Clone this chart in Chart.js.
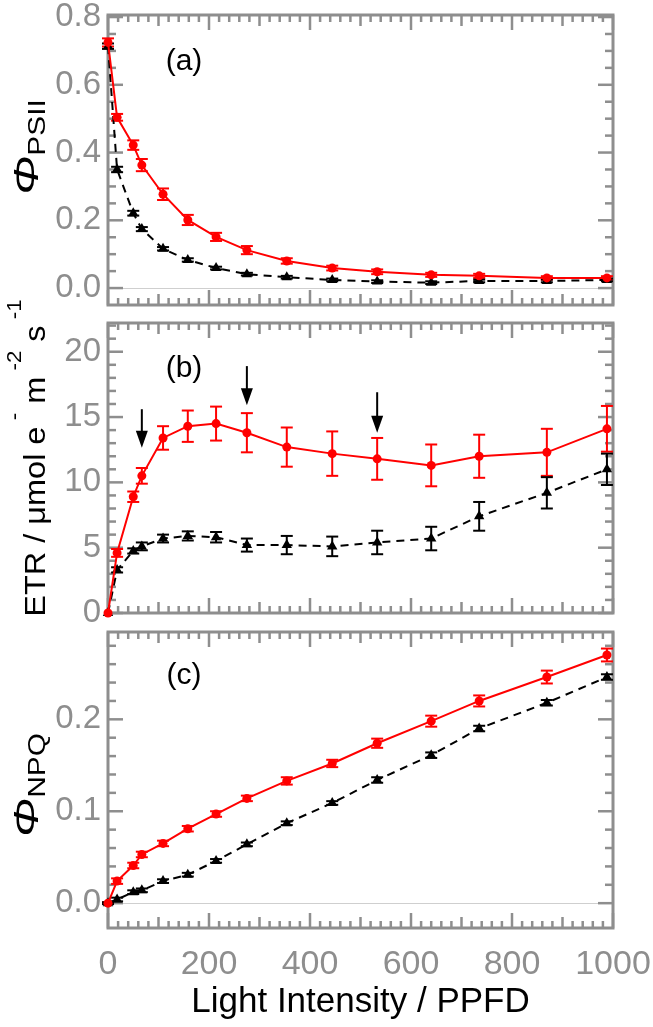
<!DOCTYPE html>
<html>
<head>
<meta charset="utf-8">
<script src="https://cdn.jsdelivr.net/npm/chart.js@4.4.0/dist/chart.umd.min.js"></script>
<style>
  html, body { margin: 0; padding: 0; background: #fff; }
  #wrap { position: relative; width: 653px; height: 1027px; }
  #wrap canvas { position: absolute; left: 0; top: 0; }
</style>
</head>
<body>
<div id="wrap">
  <canvas id="chartA" width="653" height="1027"></canvas>
  <canvas id="chartB" width="653" height="1027"></canvas>
  <canvas id="chartC" width="653" height="1027"></canvas>
</div>
<script>
/* ---------- data ---------- */
const lightX = [0, 18, 50, 67, 109, 158, 214, 275, 354, 444, 533, 640, 735, 869, 988];

const psiiRed      = [0.725, 0.504, 0.422, 0.363, 0.277, 0.201, 0.151, 0.112, 0.080, 0.059, 0.048, 0.039, 0.036, 0.030, 0.030];
const psiiRedErr   = [0.012, 0.010, 0.014, 0.018, 0.017, 0.015, 0.012, 0.012, 0.008, 0.007, 0.007, 0.006, 0.006, 0.005, 0.005];
const psiiBlack    = [0.714, 0.350, 0.221, 0.174, 0.116, 0.083, 0.059, 0.041, 0.032, 0.024, 0.019, 0.016, 0.021, 0.021, 0.024];
const psiiBlackErr = [0.008, 0.008, 0.007, 0.006, 0.005, 0.005, 0.004, 0.004, 0.004, 0.004, 0.004, 0.004, 0.004, 0.004, 0.004];

const etrRed      = [0, 4.6, 8.9, 10.5, 13.4, 14.3, 14.5, 13.8, 12.7, 12.2, 11.8, 11.3, 12.0, 12.3, 14.1];
const etrRedErr   = [0, 0.3, 0.4, 0.6, 0.9, 1.2, 1.3, 1.5, 1.5, 1.7, 1.6, 1.6, 1.65, 1.8, 1.75];
const etrBlack    = [0, 3.3, 4.75, 5.1, 5.7, 5.9, 5.8, 5.2, 5.2, 5.1, 5.4, 5.7, 7.4, 9.2, 11.0];
const etrBlackErr = [0, 0.2, 0.2, 0.3, 0.3, 0.35, 0.4, 0.5, 0.7, 0.75, 0.9, 0.9, 1.1, 1.2, 1.2];

const npqRed      = [0, 0.024, 0.041, 0.053, 0.065, 0.081, 0.097, 0.114, 0.133, 0.152, 0.174, 0.198, 0.220, 0.246, 0.270];
const npqRedErr   = [0.001, 0.003, 0.003, 0.003, 0.003, 0.003, 0.003, 0.003, 0.004, 0.004, 0.005, 0.006, 0.006, 0.007, 0.007];
const npqBlack    = [0, 0.004, 0.012, 0.014, 0.024, 0.031, 0.046, 0.064, 0.087, 0.109, 0.134, 0.161, 0.190, 0.218, 0.246];
const npqBlackErr = [0.001, 0.002, 0.002, 0.002, 0.002, 0.002, 0.002, 0.002, 0.002, 0.002, 0.003, 0.003, 0.003, 0.003, 0.003];

// arrows in panel (b): x, tail y, tip y
const arrowX    = [67, 275, 533];
const arrowTail = [15.6, 18.9, 16.9];
const arrowTip  = [12.65, 15.9, 13.8];

const xTickVals  = [0, 200, 400, 600, 800, 1000];
const yTickValsA = [0, 0.2, 0.4, 0.6, 0.8];
const yTickValsB = [0, 5, 10, 15, 20];
const yTickValsC = [0, 0.1, 0.2];

/* ---------- look ---------- */
const FONT = '"Liberation Sans", Arial, sans-serif';
const GRAY = "#8e8e8e";
const W = 653, H = 1027;

/* ---------- plugins ---------- */
function line(ctx, x1, y1, x2, y2) {
    ctx.beginPath();
    ctx.moveTo(x1, y1);
    ctx.lineTo(x2, y2);
    ctx.stroke();
}

const framePlugin = {
    id: "frame",
    beforeDatasetsDraw(chart) {
        const o = chart.options.plugins.frame;
        const { ctx, chartArea: a } = chart;
        const x = chart.scales.x, y = chart.scales.y;
        ctx.save();

        if (o.zeroLine) {
            ctx.strokeStyle = "#cfcfcf";
            ctx.lineWidth = 1;
            const zy = Math.round(y.getPixelForValue(0)) + 0.5;
            line(ctx, a.left, zy, a.right, zy);
        }

        ctx.strokeStyle = GRAY;
        ctx.lineWidth = 2.5;

        // x ticks every 20, medium 100, major 200
        for (let i = 0; i <= 50; i++) {
            const px = x.getPixelForValue(i * 20);
            const len = i % 10 === 0 ? 15 : (i % 5 === 0 ? 11 : 7);
            line(ctx, px, a.bottom, px, a.bottom - len);
            line(ctx, px, a.top, px, a.top + len);
        }

        // y ticks
        const n = Math.floor((o.yMaxTick - o.yMinTick) / o.minor + 1e-6);
        for (let i = 0; i <= n; i++) {
            const v = o.yMinTick + i * o.minor;
            const py = y.getPixelForValue(v);
            const isMajor = Math.abs(v / o.major - Math.round(v / o.major)) < 1e-6;
            const len = isMajor ? 15 : 8;
            line(ctx, a.left, py, a.left + len, py);
            line(ctx, a.right, py, a.right - len, py);
        }

        ctx.lineWidth = 3;
        ctx.strokeRect(a.left, a.top, a.right - a.left, a.bottom - a.top);
        ctx.restore();
    }
};

const errorBarPlugin = {
    id: "errorBars",
    beforeDatasetsDraw(chart) {
        const { ctx } = chart;
        const y = chart.scales.y;
        ctx.save();
        ctx.lineWidth = 2;
        chart.data.datasets.forEach((ds, di) => {
            if (!ds.errors) return;
            const meta = chart.getDatasetMeta(di);
            ctx.strokeStyle = ds.borderColor;
            meta.data.forEach((pt, i) => {
                const e = ds.errors[i];
                if (!e) return;
                const v = ds.data[i].y;
                const top = y.getPixelForValue(v + e);
                const bot = y.getPixelForValue(v - e);
                line(ctx, pt.x, top, pt.x, bot);
                line(ctx, pt.x - 6, top, pt.x + 6, top);
                line(ctx, pt.x - 6, bot, pt.x + 6, bot);
            });
        });
        ctx.restore();
    }
};

// rotated y-axis title made of runs with different sizes / offsets
function drawRuns(ctx, baseX, centerY, runs, stretch) {
    ctx.save();
    ctx.translate(baseX, centerY);
    ctx.rotate(-Math.PI / 2);
    ctx.scale(stretch, 1);
    ctx.fillStyle = "#000";
    ctx.textBaseline = "alphabetic";
    ctx.textAlign = "left";
    let total = 0;
    runs.forEach(r => { ctx.font = r.font; r.w = ctx.measureText(r.t).width; total += r.w; });
    let cx = -total / 2;
    runs.forEach(r => {
        ctx.font = r.font;
        ctx.fillText(r.t, cx, r.dy);
        cx += r.w;
    });
    ctx.restore();
}

const labelPlugin = {
    id: "labels",
    afterDraw(chart) {
        const o = chart.options.plugins.labels;
        const { ctx } = chart;
        ctx.save();
        ctx.fillStyle = "#000";
        ctx.font = "30px " + FONT;
        ctx.textAlign = "center";
        ctx.textBaseline = "middle";
        ctx.fillText(o.panel, o.panelX, o.panelY);
        ctx.restore();

        drawRuns(ctx, o.titleX, o.titleY, o.runs, o.stretch);

        if (o.arrows) {
            const x = chart.scales.x, y = chart.scales.y;
            ctx.save();
            ctx.strokeStyle = "#000";
            ctx.fillStyle = "#000";
            ctx.lineWidth = 2;
            arrowX.forEach((ax, i) => {
                const px = x.getPixelForValue(ax);
                const t = y.getPixelForValue(arrowTail[i]);
                const h = y.getPixelForValue(arrowTip[i]);
                line(ctx, px, t, px, h - 10);
                ctx.beginPath();
                ctx.moveTo(px - 6, h - 17);
                ctx.lineTo(px + 6, h - 17);
                ctx.lineTo(px, h);
                ctx.closePath();
                ctx.fill();
            });
            ctx.restore();
        }
    }
};

/* ---------- builders ---------- */
function points(ys) {
    return lightX.map((x, i) => ({ x: x, y: ys[i] }));
}

function datasets(red, redErr, black, blackErr) {
    return [
        {
            data: points(red),
            errors: redErr,
            borderColor: "#ff0000",
            backgroundColor: "#ff0000",
            borderWidth: 2,
            pointStyle: "circle",
            pointRadius: 4.5,
            pointBorderWidth: 0,
            clip: false
        },
        {
            data: points(black),
            errors: blackErr,
            borderColor: "#000000",
            backgroundColor: "#000000",
            borderWidth: 2,
            borderDash: [8, 6],
            pointStyle: "triangle",
            pointRadius: 6,
            pointBorderWidth: 0,
            clip: false
        }
    ];
}

function makeChart(id, cfg) {
    const showX = !!cfg.showX;
    return new Chart(document.getElementById(id), {
        type: "line",
        data: { datasets: cfg.datasets },
        options: {
            responsive: false,
            animation: false,
            devicePixelRatio: 1,
            layout: { padding: { left: 0, right: 40, top: cfg.top, bottom: cfg.bottom } },
            plugins: {
                legend: { display: false },
                tooltip: { enabled: false },
                frame: cfg.frame,
                labels: cfg.labels
            },
            scales: {
                x: {
                    type: "linear",
                    min: 0,
                    max: 1000,
                    display: showX,
                    grid: { display: false, drawTicks: false },
                    border: { display: false },
                    ticks: {
                        color: GRAY,
                        padding: 16,
                        maxRotation: 0,
                        font: { family: FONT, size: 34 },
                        callback: v => String(v)
                    },
                    title: {
                        display: showX,
                        text: "Light Intensity / PPFD",
                        color: "#000",
                        font: { family: FONT, size: 35 },
                        padding: { top: 0, bottom: 4 }
                    },
                    afterBuildTicks: s => { s.ticks = xTickVals.map(v => ({ value: v })); },
                    afterFit: s => {
                        s.paddingLeft = 0; s.paddingRight = 0;
                        if (showX) s.height = H - 928;
                    }
                },
                y: {
                    type: "linear",
                    min: cfg.yMin,
                    max: cfg.yMax,
                    grid: { display: false, drawTicks: false },
                    border: { display: false },
                    ticks: {
                        color: GRAY,
                        padding: 7,
                        font: { family: FONT, size: 33 },
                        callback: cfg.fmt
                    },
                    afterBuildTicks: s => { s.ticks = cfg.yTicks.map(v => ({ value: v })); },
                    afterFit: s => { s.width = 108; s.paddingTop = 0; s.paddingBottom = 0; }
                }
            }
        },
        plugins: [framePlugin, errorBarPlugin, labelPlugin]
    });
}

const big = "29px " + FONT;
const sup = "20px " + FONT;
const sub = "23px " + FONT;
const phi = "italic 36px " + FONT;

makeChart("chartA", {
    datasets: datasets(psiiRed, psiiRedErr, psiiBlack, psiiBlackErr),
    top: 15, bottom: H - 305,
    yMin: -0.05, yMax: 0.806,
    yTicks: yTickValsA,
    fmt: v => v.toFixed(1),
    frame: { zeroLine: true, yMinTick: 0, yMaxTick: 0.8, minor: 0.05, major: 0.2 },
    labels: {
        panel: "(a)", panelX: 184, panelY: 62,
        titleX: 38, titleY: 147, stretch: 1.3,
        runs: [{ t: "Φ", font: phi, dy: 0 }, { t: "PSII", font: sub, dy: 7 }]
    }
});

makeChart("chartB", {
    datasets: datasets(etrRed, etrRedErr, etrBlack, etrBlackErr),
    top: 323, bottom: H - 613,
    yMin: 0, yMax: 22.2,
    yTicks: yTickValsB,
    fmt: v => String(v),
    frame: { zeroLine: false, yMinTick: 0, yMaxTick: 22, minor: 1, major: 5 },
    labels: {
        panel: "(b)", panelX: 184, panelY: 369,
        titleX: 45, titleY: 458, stretch: 1.12,
        arrows: true,
        runs: [
            { t: "ETR / μmol e", font: big, dy: 0 },
            { t: " -", font: sup, dy: -24 },
            { t: " m", font: big, dy: 0 },
            { t: " -2", font: sup, dy: -24 },
            { t: " s", font: big, dy: 0 },
            { t: " -1", font: sup, dy: -24 }
        ]
    }
});

makeChart("chartC", {
    datasets: datasets(npqRed, npqRedErr, npqBlack, npqBlackErr),
    top: 632, bottom: 0,
    showX: true,
    yMin: -0.027, yMax: 0.295,
    yTicks: yTickValsC,
    fmt: v => v.toFixed(1),
    frame: { zeroLine: true, yMinTick: 0, yMaxTick: 0.28, minor: 0.02, major: 0.1 },
    labels: {
        panel: "(c)", panelX: 184, panelY: 676,
        titleX: 38, titleY: 785, stretch: 1.3,
        runs: [{ t: "Φ", font: phi, dy: 0 }, { t: "NPQ", font: sub, dy: 7 }]
    }
});
</script>
</body>
</html>
